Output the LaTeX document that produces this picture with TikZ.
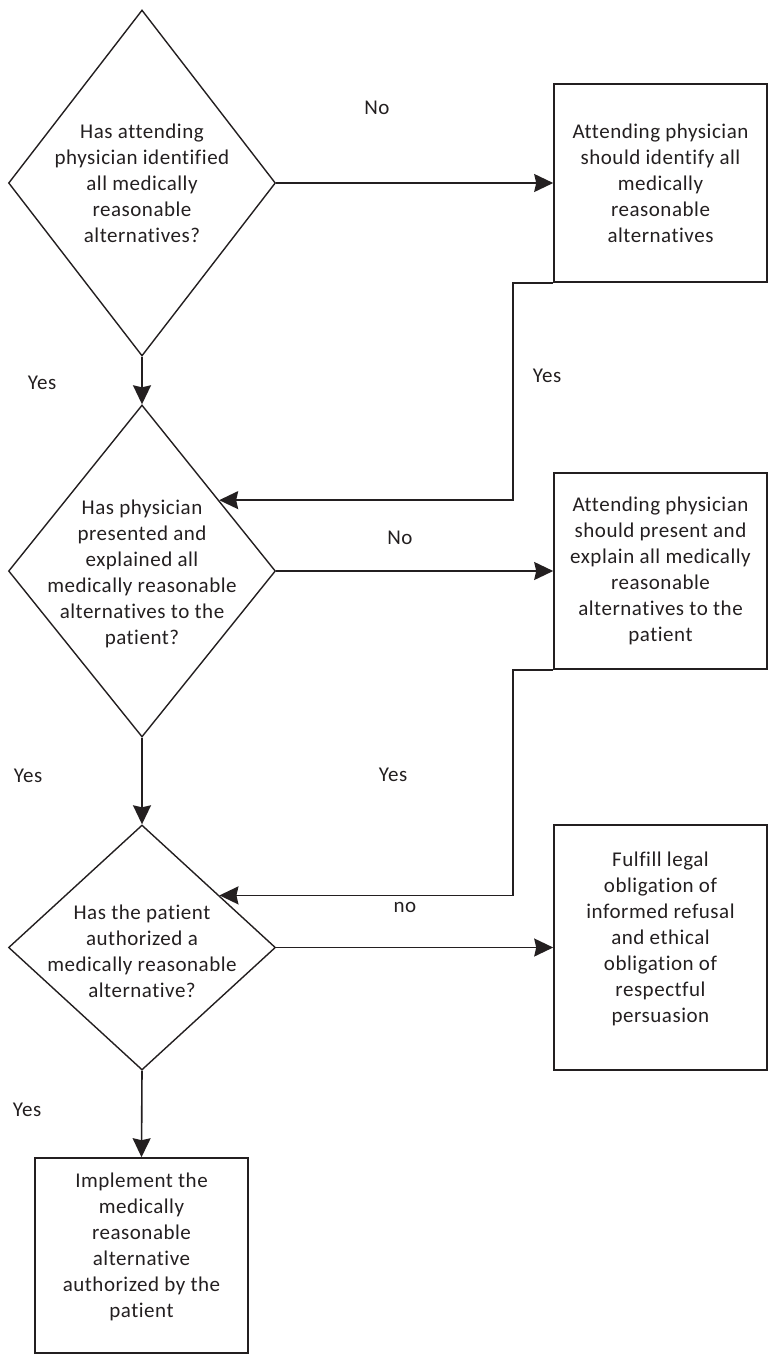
\documentclass[tikz,border=0pt]{standalone}
\usepackage{fontspec}
\setmainfont{Carlito}[Ligatures={NoCommon}, LetterSpace=2.5]
\usetikzlibrary{shapes.geometric,arrows.meta,calc}
\definecolor{ink}{HTML}{231F20}
\begin{document}
\begin{tikzpicture}[x=1pt,y=-1pt,
  every node/.style={text=ink, font=\fontsize{21}{26}\selectfont},
  decision/.style={draw=ink, line width=1.4pt, diamond, inner sep=0pt, minimum width=267pt},
  qtext/.style={align=center, inner sep=0pt},
  stepbox/.style={draw=ink, line width=1.6pt, rectangle, inner sep=0pt, minimum width=213pt, align=center},
  flow/.style={draw=ink, line width=1.6pt, -{Stealth[length=19pt,width=18pt,inset=2pt]}},
  lbl/.style={inner sep=0pt}]
\useasboundingbox (0,0) rectangle (769,1355);

% decisions
\node[decision, minimum height=346pt] (d1) at (142,183) {};
\node[qtext] (d1t) at (d1) {Has attending\\physician identified\\all medically\\reasonable\\alternatives?};
\node[decision, minimum height=332pt] (d2) at (142,571) {};
\node[qtext] (d2t) at (142,574) {Has physician\\presented and\\explained all\\medically reasonable\\alternatives to the\\patient?};
\node[decision, minimum height=245pt] (d3) at (142,947.5) {};
\node[qtext] (d3t) at (142,951) {Has the patient\\authorized a\\medically reasonable\\alternative?};

% actions
\node[stepbox, minimum height=198pt] (b1) at (660.5,183) {Attending physician\\should identify all\\medically\\reasonable\\alternatives};
\node[stepbox, minimum height=196pt] (b2) at (660.5,571) {Attending physician\\should present and\\explain all medically\\reasonable\\alternatives to the\\patient};
\node[stepbox, minimum height=245pt] (b3) at (660.5,947.5) {Fulfill legal\\obligation of\\informed refusal\\and ethical\\obligation of\\respectful\\persuasion\\[-6pt]};
\node[stepbox, minimum height=195pt] (b4) at (141.5,1255.5) {Implement the\\medically\\reasonable\\alternative\\authorized by the\\patient\\[-6pt]};

% connectors
\draw[flow] (d1.east) -- (b1.west);
\draw[flow] (d1.south) -- (d2.north);
\draw[flow] (b1.south west) -- ++(-40,0) |- ($(d2.north)!0.575!(d2.east)$);
\draw[flow] (d2.east) -- (b2.west);
\draw[flow] (d2.south) -- (d3.north);
\draw[flow] (b2.south west) -- ++(-40,0) |- ($(d3.north)!0.577!(d3.east)$);
\draw[flow] (d3.east) -- (b3.west);
\draw[flow] (d3.south) -- (b4.north);

% branch labels
\node[lbl] (l1) at (377,108) {No};
\node[lbl] (l2) at (42,383) {Yes};
\node[lbl] (l3) at (547,376) {Yes};
\node[lbl] (l4) at (400,538) {No};
\node[lbl] (l5) at (28,776) {Yes};
\node[lbl] (l6) at (393,775) {Yes};
\node[lbl] (l7) at (405,907) {no};
\node[lbl] (l8) at (27,1110) {Yes};
\end{tikzpicture}
\end{document}
